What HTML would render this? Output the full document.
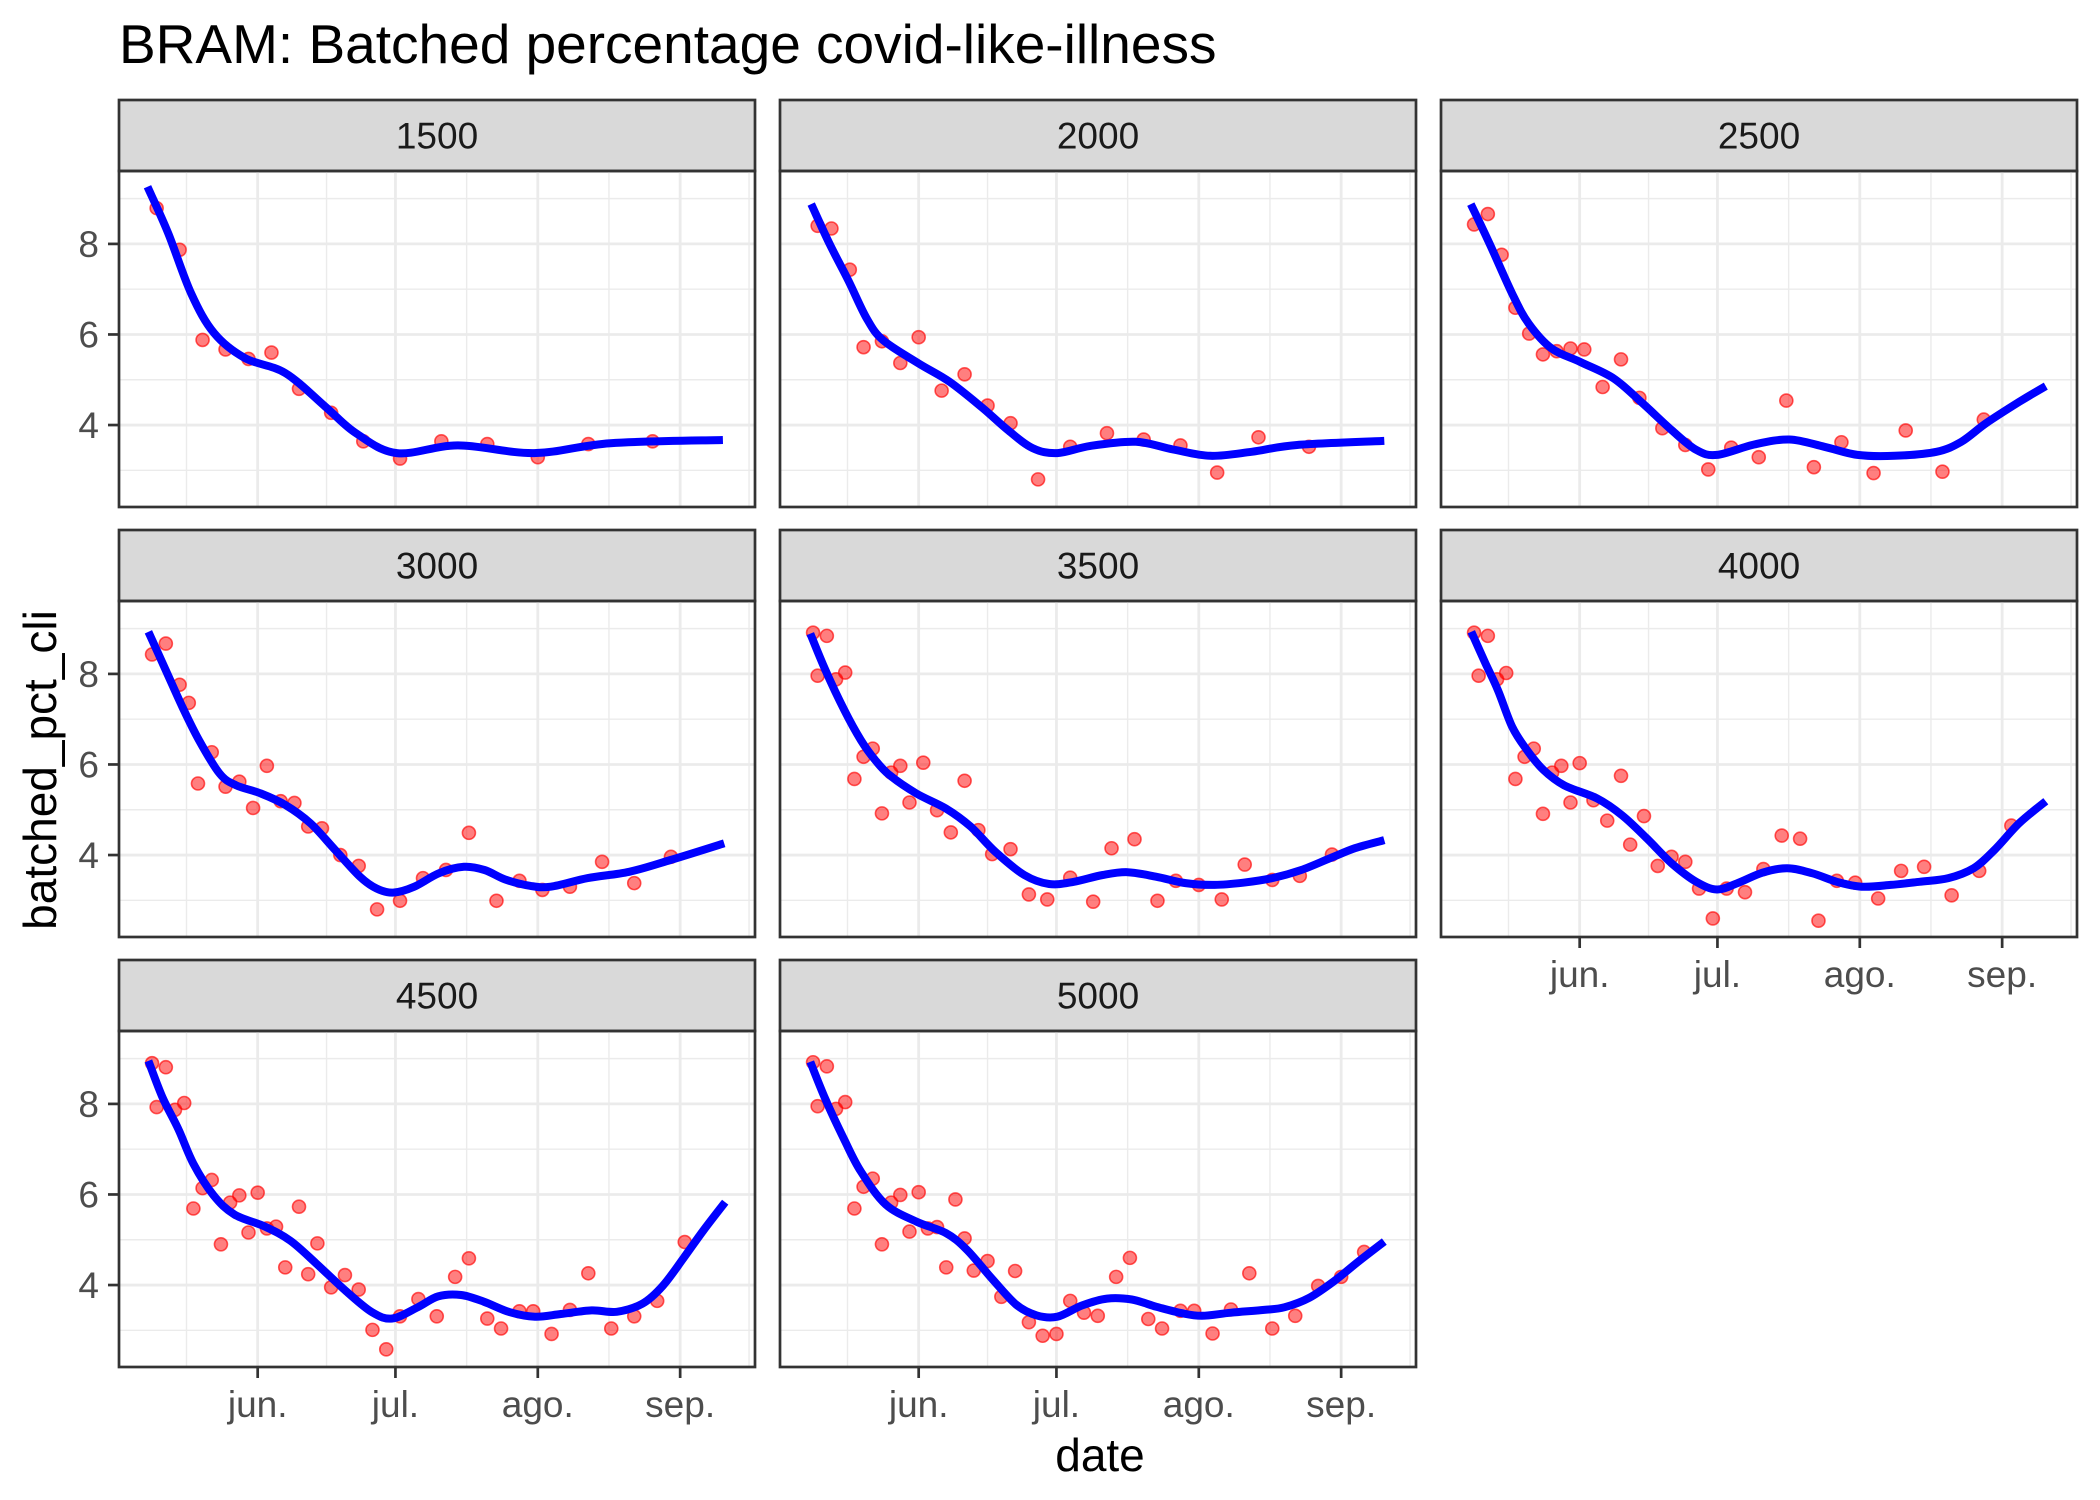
<!DOCTYPE html>
<html><head><meta charset="utf-8">
<style>
html,body{margin:0;padding:0;background:#fff;}
svg{display:block;font-family:"Liberation Sans",Arial,sans-serif;}
</style></head>
<body>
<svg id="chart" width="2100" height="1500" viewBox="0 0 2100 1500" xmlns="http://www.w3.org/2000/svg">
<rect x="0" y="0" width="2100" height="1500" fill="#fff"/>
<text x="119" y="63" font-size="55" fill="#000">BRAM: Batched percentage covid-like-illness</text>
<text x="1100" y="1471" font-size="46" fill="#000" text-anchor="middle">date</text>
<text x="0" y="0" font-size="46" fill="#000" text-anchor="middle" transform="translate(56,770) rotate(-90)">batched_pct_cli</text>
<g id="panels"></g>
</svg>
<script>
// ---- data (day offsets relative to 1 June) ----
const facetLabels = ["1500","2000","2500","3000","3500","4000","4500","5000"];
const xTickLabels = ["jun.","jul.","ago.","sep."];
const xTickDays = [0, 30, 61, 92];
const yTickValues = [4, 6, 8];

const pts1500Days = [-22,-17,-12,-7,-2,3,9,16,23,31,40,50,61,72,86];
const pts1500Vals = [8.79,7.87,5.88,5.67,5.46,5.6,4.8,4.27,3.64,3.26,3.64,3.58,3.29,3.58,3.64];
const fit1500Days = [-24,-19.5,-14.5,-9.5,-2.8,6,14.8,21.4,30.3,43.6,60.2,76.8,101.3];
const fit1500Vals = [9.26,8.24,6.91,6.03,5.48,5.15,4.40,3.82,3.38,3.55,3.38,3.6,3.67];

const pts2000Days = [-22,-19,-15,-12,-8,-4,0,5,10,15,20,26,33,41,49,57,65,74,85];
const pts2000Vals = [8.40,8.34,7.43,5.72,5.85,5.37,5.94,4.76,5.12,4.43,4.04,2.80,3.52,3.82,3.68,3.55,2.95,3.73,3.52];
const fit2000Days = [-23.4,-19.4,-15.3,-11.3,-7.7,0,6.8,14,19.4,24.8,30.2,37.4,47.3,55.4,63.5,72.5,82.4,101.4];
const fit2000Vals = [8.88,8.0,7.19,6.35,5.87,5.36,4.95,4.37,3.89,3.49,3.38,3.54,3.63,3.46,3.32,3.41,3.56,3.65];

const pts2500Days = [-23,-20,-17,-14,-11,-8,-5,-2,1,5,9,13,18,23,28,33,39,45,51,57,64,71,79,88];
const pts2500Vals = [8.43,8.66,7.76,6.59,6.02,5.56,5.63,5.69,5.67,4.84,5.45,4.60,3.93,3.56,3.02,3.50,3.29,4.54,3.07,3.62,2.94,3.88,2.97,4.12];
const fit2500Days = [-23.7,-19.6,-14.7,-11.1,-6.1,0.2,7.4,13.7,20,25.4,29.9,38,45.7,53.3,60.5,68.6,77.7,83.1,88.5,95.7,101.5];
const fit2500Vals = [8.88,8.0,6.90,6.24,5.69,5.39,5.03,4.48,3.89,3.45,3.34,3.57,3.68,3.52,3.34,3.32,3.41,3.63,4.04,4.51,4.86];

const pts3000Days = [-23,-20,-17,-15,-10,-13,-7,-4,-1,2,5,8,11,14,18,22,26,31,36,41,46,52,57,62,68,75,82,90];
const pts3000Vals = [8.43,8.67,7.76,7.36,6.27,5.58,5.51,5.62,5.04,5.97,5.19,5.15,4.63,4.59,4.0,3.76,2.80,2.99,3.49,3.67,4.49,2.99,3.43,3.23,3.30,3.85,3.38,3.96];
const fit3000Days = [-23.8,-20,-16.4,-12.8,-8.3,-4.7,0.7,6.1,11.5,16.9,22.3,25.9,29.5,34.1,39.5,44.9,49.4,53.9,59.3,63.8,71.9,80.9,89.9,101.6];
const fit3000Vals = [8.93,8.08,7.27,6.54,5.80,5.54,5.36,5.10,4.70,4.11,3.52,3.26,3.17,3.30,3.60,3.74,3.67,3.46,3.32,3.30,3.49,3.63,3.89,4.26];

const pts3500Days = [-23,-20,-22,-18,-16,-12,-10,-14,-8,-6,-4,-2,1,4,7,10,13,16,20,24,28,33,38,42,47,52,56,61,66,71,77,83,90];
const pts3500Vals = [8.91,8.84,7.96,7.88,8.03,6.17,6.35,5.68,4.92,5.82,5.97,5.16,6.04,4.99,4.50,5.64,4.55,4.02,4.13,3.13,3.02,3.50,2.97,4.15,4.35,2.99,3.43,3.34,3.02,3.79,3.45,3.54,4.01];
const fit3500Days = [-23.6,-20.3,-16.2,-12.6,-9.5,-6.3,-0.5,5.9,11.3,16.7,23,28.4,33.8,40.1,45.5,51.8,58.1,64.4,70.7,77,83.3,89.6,95,101.4];
const fit3500Vals = [8.89,8.08,7.20,6.54,6.10,5.76,5.36,5.03,4.63,4.07,3.56,3.36,3.41,3.56,3.62,3.52,3.38,3.34,3.39,3.49,3.67,3.93,4.15,4.33];

const pts4000Days = [-23,-20,-22,-18,-16,-12,-10,-14,-8,-6,-4,-2,0,3,6,9,11,14,17,20,23,26,29,32,36,40,44,48,52,56,60,65,70,75,81,87,94];
const pts4000Vals = [8.91,8.84,7.96,7.88,8.02,6.17,6.35,5.68,4.91,5.82,5.97,5.16,6.03,5.21,4.76,5.75,4.23,4.86,3.76,3.96,3.85,3.26,2.60,3.26,3.18,3.69,4.43,4.36,2.55,3.43,3.39,3.04,3.65,3.74,3.11,3.65,4.65];
const fit4000Days = [-23.6,-20.5,-17.8,-14.7,-11.5,-7.9,-3.4,3.8,9.2,14.6,20,25.4,29.9,34.4,39.8,45.2,50.6,56,61.4,67.7,74,80.3,85.8,90.3,95.7,101.5];
const fit4000Vals = [8.93,8.23,7.64,6.83,6.32,5.88,5.54,5.25,4.88,4.37,3.82,3.41,3.24,3.38,3.61,3.71,3.60,3.41,3.30,3.34,3.41,3.49,3.71,4.11,4.70,5.19];

const pts4500Days = [-23,-20,-22,-18,-16,-12,-10,-14,-8,-6,-4,-2,0,2,4,6,9,11,13,16,19,22,25,28,31,35,39,43,46,50,53,57,60,64,68,72,77,82,87,93];
const pts4500Vals = [8.90,8.81,7.93,7.87,8.02,6.14,6.32,5.69,4.90,5.82,5.98,5.16,6.04,5.25,5.29,4.39,5.73,4.24,4.92,3.95,4.22,3.90,3.01,2.58,3.31,3.69,3.31,4.18,4.59,3.26,3.04,3.42,3.42,2.92,3.45,4.26,3.04,3.31,3.65,4.95];
const fit4500Days = [-23.8,-20.7,-17.3,-14,-9.6,-5.1,1.6,7.1,12.7,19.3,24.9,29.3,34.9,39.3,44.3,49.3,54.9,60.4,66,72.7,78.2,83.8,88.2,92.7,97.1,101.8];
const fit4500Vals = [8.95,8.14,7.45,6.68,5.98,5.56,5.29,4.98,4.48,3.86,3.40,3.26,3.51,3.75,3.78,3.63,3.40,3.30,3.36,3.44,3.41,3.59,3.98,4.59,5.21,5.83];

const pts5000Days = [-23,-20,-22,-18,-16,-12,-10,-14,-8,-6,-4,-2,0,2,4,6,8,10,12,15,18,21,24,27,30,33,36,39,43,46,50,53,57,60,64,68,72,77,82,87,92,97];
const pts5000Vals = [8.92,8.83,7.95,7.89,8.04,6.17,6.35,5.69,4.90,5.82,5.99,5.18,6.05,5.25,5.28,4.39,5.89,5.03,4.32,4.53,3.74,4.31,3.18,2.88,2.92,3.65,3.39,3.32,4.18,4.60,3.25,3.04,3.43,3.43,2.93,3.46,4.26,3.04,3.32,3.98,4.18,4.73];
const fit5000Days = [-23.6,-20.3,-16.2,-12.6,-7.2,-0.5,5.9,10.4,15.8,21.2,25.7,30.2,35.6,41,46.4,51.8,57.2,61.7,68,75.2,79.7,85.1,90.5,95.9,101.4];
const fit5000Vals = [8.93,8.10,7.21,6.51,5.78,5.40,5.15,4.79,4.16,3.57,3.33,3.30,3.55,3.70,3.68,3.52,3.38,3.32,3.39,3.45,3.51,3.72,4.09,4.53,4.96];

const pointDays = [pts1500Days,pts2000Days,pts2500Days,pts3000Days,pts3500Days,pts4000Days,pts4500Days,pts5000Days];
const pointVals = [pts1500Vals,pts2000Vals,pts2500Vals,pts3000Vals,pts3500Vals,pts4000Vals,pts4500Vals,pts5000Vals];
const fitDays = [fit1500Days,fit2000Days,fit2500Days,fit3000Days,fit3500Days,fit4000Days,fit4500Days,fit5000Days];
const fitVals = [fit1500Vals,fit2000Vals,fit2500Vals,fit3000Vals,fit3500Vals,fit4000Vals,fit4500Vals,fit5000Vals];

// ---- layout ----
const NS = "http://www.w3.org/2000/svg";
const colX = [119, 780, 1441];
const rowY = [100, 530, 960];
const PW = 636, STRIP = 71, PH = 336;
const X_MIN = -30.2, X_MAX = 108.3;
const Y_MIN = 2.19, Y_MAX = 9.61;

function mk(tag, attrs, parent){
  const e = document.createElementNS(NS, tag);
  for (const k in attrs) e.setAttribute(k, attrs[k]);
  parent.appendChild(e);
  return e;
}
function catmull(pts){
  let d = "M" + pts[0][0].toFixed(1) + "," + pts[0][1].toFixed(1);
  for (let i = 0; i < pts.length - 1; i++){
    const p0 = pts[Math.max(0,i-1)], p1 = pts[i], p2 = pts[i+1], p3 = pts[Math.min(pts.length-1,i+2)];
    const c1x = p1[0] + (p2[0]-p0[0])/6, c1y = p1[1] + (p2[1]-p0[1])/6;
    const c2x = p2[0] - (p3[0]-p1[0])/6, c2y = p2[1] - (p3[1]-p1[1])/6;
    d += " C" + c1x.toFixed(1)+","+c1y.toFixed(1)+" "+c2x.toFixed(1)+","+c2y.toFixed(1)+" "+p2[0].toFixed(1)+","+p2[1].toFixed(1);
  }
  return d;
}

const root = document.getElementById("panels");
for (let i = 0; i < facetLabels.length; i++){
  const col = i % 3, row = Math.floor(i / 3);
  const x0 = colX[col], y0 = rowY[row], py = y0 + STRIP;
  const xs = d => x0 + (d - X_MIN) / (X_MAX - X_MIN) * PW;
  const ys = v => py + (Y_MAX - v) / (Y_MAX - Y_MIN) * PH;
  const g = mk("g", {}, root);
  
  

  const strip = mk("rect", {x:x0, y:y0, width:PW, height:STRIP, fill:"#D9D9D9", stroke:"#333", "stroke-width":2.7}, g);
  
  
  const st = mk("text", {x:x0+PW/2, y:y0+STRIP/2+13, "font-size":37, fill:"#1A1A1A", "text-anchor":"middle"}, g);
  st.textContent = facetLabels[i];
  
  

  const grid = mk("g", {}, g);
  
  
  [3,5,7,9].forEach(v => mk("line", {x1:x0, x2:x0+PW, y1:ys(v), y2:ys(v), stroke:"#EBEBEB", "stroke-width":1.4}, grid));
  [-15.5,15,45.5,76.5,107].forEach(d => mk("line", {x1:xs(d), x2:xs(d), y1:py, y2:py+PH, stroke:"#EBEBEB", "stroke-width":1.4}, grid));
  yTickValues.forEach(v => mk("line", {x1:x0, x2:x0+PW, y1:ys(v), y2:ys(v), stroke:"#EBEBEB", "stroke-width":2.8}, grid));
  xTickDays.forEach(d => mk("line", {x1:xs(d), x2:xs(d), y1:py, y2:py+PH, stroke:"#EBEBEB", "stroke-width":2.8}, grid));

  const pg = mk("g", {}, g);
  
  
  for (let j = 0; j < pointDays[i].length; j++){
    const c = mk("circle", {cx:xs(pointDays[i][j]), cy:ys(pointVals[i][j]), r:6.5, fill:"rgba(255,0,0,0.5)", stroke:"rgba(255,0,0,0.65)", "stroke-width":1.6}, pg);
    
    
  }
  const pts = fitDays[i].map((d,k) => [xs(d), ys(fitVals[i][k])]);
  const path = mk("path", {d:catmull(pts), fill:"none", stroke:"#0000FF", "stroke-width":8, "stroke-linejoin":"round"}, g);
  
  

  const border = mk("rect", {x:x0, y:py, width:PW, height:PH, fill:"none", stroke:"#333", "stroke-width":2.7}, g);
  
  

  if (col === 0){
    yTickValues.forEach(v => {
      mk("line", {x1:x0-11, x2:x0, y1:ys(v), y2:ys(v), stroke:"#333", "stroke-width":2.7}, g);
      const t = mk("text", {x:x0-20, y:ys(v)+13, "font-size":37, fill:"#4D4D4D", "text-anchor":"end"}, g);
      t.textContent = v;
      
      
    });
  }
  if (row === 2 || (row === 1 && col === 2)){
    xTickDays.forEach((d,k) => {
      mk("line", {x1:xs(d), x2:xs(d), y1:py+PH, y2:py+PH+11, stroke:"#333", "stroke-width":2.7}, g);
      const t = mk("text", {x:xs(d), y:py+PH+50, "font-size":37, fill:"#4D4D4D", "text-anchor":"middle"}, g);
      t.textContent = xTickLabels[k];
      
      
    });
  }
}
</script>
</body></html>
